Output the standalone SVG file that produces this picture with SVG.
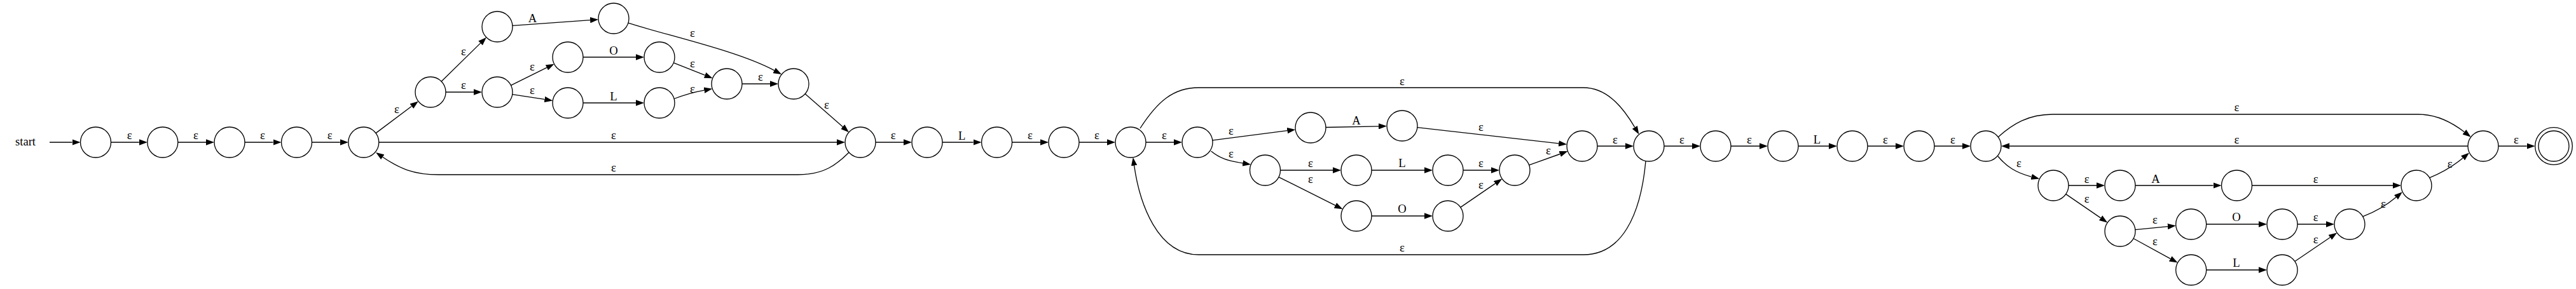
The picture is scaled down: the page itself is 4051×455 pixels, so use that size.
<svg xmlns="http://www.w3.org/2000/svg" width="4051" height="455" viewBox="0 0 4051 455">
<style>
.n{fill:#fff;stroke:#000;stroke-width:1.33}
.e{fill:none;stroke:#000;stroke-width:1.33;marker-end:url(#ah)}
text{font-family:"Liberation Serif","Times New Roman",serif;font-size:18.67px;fill:#000;text-anchor:middle}
</style>
<defs>
<marker id="ah" viewBox="0 0 13 9.4" refX="0" refY="4.7" markerWidth="13" markerHeight="9.4" markerUnits="userSpaceOnUse" orient="auto">
<path d="M0,0 L13,4.7 L0,9.4 z" fill="#000"/>
</marker>
</defs>
<rect width="4051" height="455" fill="#fff"/>
<g id="connectors">
<path class="e" d="M78,224 L113.5,224"/>
<path class="e" d="M174.5,224 L218.8,224"/><text x="203.6" y="219">ε</text>
<path class="e" d="M279.8,224 L324,224"/><text x="308" y="219">ε</text>
<path class="e" d="M385,224 L429.5,224"/><text x="413" y="219">ε</text>
<path class="e" d="M490.5,224 L534.8,224"/><text x="518.7" y="219">ε</text>
<path class="e" d="M591,209.6 L647.4,167.2"/><text x="624" y="177.5">ε</text>
<path class="e" d="M694.1,128.2 L755.6,67.9"/><text x="729" y="86.5">ε</text>
<path class="e" d="M701,145 L745,145"/><text x="729" y="139.5">ε</text>
<path class="e" d="M805.9,40.3 L928.1,31.6"/><text x="837.6" y="34.5">A</text>
<path class="e" d="M803.5,134.3 L859.9,106.4"/><text x="837" y="110.5">ε</text>
<path class="e" d="M805.7,148.6 L856.4,156.4"/><text x="837" y="147.5">ε</text>
<path class="e" d="M917,90 L1000,90"/><text x="965" y="86">O</text>
<path class="e" d="M917,162 L1000,162"/><text x="965" y="158">L</text>
<path class="e" d="M1059.3,98.8 L1108.6,118.4"/><text x="1089" y="105.5">ε</text>
<path class="e" d="M1060.1,155.5 Q1085,146 1107.4,142.1"/><text x="1089" y="145.5">ε</text>
<path class="e" d="M1167,132 L1211,132"/><text x="1196" y="126.5">ε</text>
<path class="e" d="M987.8,36.2 C1050,56 1160,80 1217.6,110.9"/><text x="1089" y="57.5">ε</text>
<path class="e" d="M1266.1,147.8 L1325.2,199.6"/><text x="1300" y="170.5">ε</text>
<path class="e" d="M595.8,224 L1316,224"/><text x="965" y="218.5">ε</text>
<path class="e" d="M1335,240 C1315,260 1295,275 1255,275 L690,275 C650,275 628,265 601.8,247.2"/><text x="965" y="269.5">ε</text>
<path class="e" d="M1377,224 L1421,224"/><text x="1404.6" y="218.5">ε</text>
<path class="e" d="M1482,224 L1530.6,224"/><text x="1512.7" y="219.5">L</text>
<path class="e" d="M1591.6,224 L1636,224"/><text x="1620" y="218.5">ε</text>
<path class="e" d="M1697,224 L1741,224"/><text x="1725" y="218.5">ε</text>
<path class="e" d="M1802,224 L1846,224"/><text x="1831" y="218.5">ε</text>
<path class="e" d="M1906.8,220.9 L2024.3,205.7"/><text x="1936" y="211.5">ε</text>
<path class="e" d="M1904.6,238 C1918,249 1930,253 1954.3,256.9"/><text x="1936" y="247.5">ε</text>
<path class="e" d="M2085,200.5 L2168,198.8"/><text x="2133" y="196">A</text>
<path class="e" d="M2013.5,268 L2096,268"/><text x="2061" y="262.5">ε</text>
<path class="e" d="M2011,278.8 L2099.9,323.4"/><text x="2061" y="287.5">ε</text>
<path class="e" d="M2157,268 L2240,268"/><text x="2205" y="263">L</text>
<path class="e" d="M2157,340 L2240,340"/><text x="2205" y="335">O</text>
<path class="e" d="M2301,268 L2345,268"/><text x="2329" y="262.5">ε</text>
<path class="e" d="M2296.8,326.4 L2351.5,288.9"/><text x="2329" y="296.5">ε</text>
<path class="e" d="M2228.8,200.7 L2451.2,225.8"/><text x="2329" y="205.5">ε</text>
<path class="e" d="M2404.6,259.9 L2453.2,242.5"/><text x="2435" y="242.5">ε</text>
<path class="e" d="M2512,230 L2556,230"/><text x="2540" y="225.5">ε</text>
<path class="e" d="M2617,230 L2661,230"/><text x="2645" y="225.5">ε</text>
<path class="e" d="M1793,202 C1820,160 1845,138 1885,138 L2490,138 C2525,138 2550,165 2570.8,200.4"/><text x="2205" y="133.5">ε</text>
<path class="e" d="M2588,254 C2580,340 2550,401 2490,401 L1885,401 C1820,401 1792,320 1783.6,260.7"/><text x="2205" y="395.5">ε</text>
<path class="e" d="M2722,230 L2767,230"/><text x="2751" y="225.5">ε</text>
<path class="e" d="M2828,230 L2876,230"/><text x="2857.5" y="226">L</text>
<path class="e" d="M2937,230 L2981,230"/><text x="2965" y="225.5">ε</text>
<path class="e" d="M3042,230 L3086,230"/><text x="3071" y="225.5">ε</text>
<path class="e" d="M3142,246 C3155,262 3170,272 3194.6,278.3"/><text x="3175" y="262.5">ε</text>
<path class="e" d="M3253,292 L3297,292"/><text x="3281.6" y="287.5">ε</text>
<path class="e" d="M3248.8,305.6 L3303.5,343.1"/><text x="3281.6" y="318.5">ε</text>
<path class="e" d="M3358,292 L3480.5,292"/><text x="3390" y="288">A</text>
<path class="e" d="M3357.9,361.6 L3408.9,356.6"/><text x="3389" y="351.5">ε</text>
<path class="e" d="M3355.1,375.5 L3413.2,407.3"/><text x="3389" y="385.5">ε</text>
<path class="e" d="M3541.5,292 L3763,292"/><text x="3641.6" y="287.5">ε</text>
<path class="e" d="M3469.7,353 L3552,353"/><text x="3517" y="348">O</text>
<path class="e" d="M3469.7,425 L3552,425"/><text x="3517" y="420">L</text>
<path class="e" d="M3613,353 L3658,353"/><text x="3641.6" y="347.5">ε</text>
<path class="e" d="M3608.9,411.5 L3664.4,373.8"/><text x="3641.6" y="382.5">ε</text>
<path class="e" d="M3715.8,340.9 Q3745,330 3768,310.6"/><text x="3748" y="326.5">ε</text>
<path class="e" d="M3820.7,279.8 Q3850,268 3873.1,248.8"/><text x="3852.6" y="263.5">ε</text>
<path class="e" d="M3142,216 C3165,195 3190,180 3228,180 L3803,180 C3830,180 3855,192 3875.4,207.8"/><text x="3517.5" y="174.5">ε</text>
<path class="e" d="M3881,230 L3160,230"/><text x="3517.5" y="225.5">ε</text>
<path class="e" d="M3929,230 L3973.7,230"/><text x="3957" y="225.5">ε</text>
</g>
<g id="start"><text x="40" y="229">start</text></g>
<g id="n0"><circle class="n" cx="150.5" cy="224" r="24"/></g>
<g id="n1"><circle class="n" cx="255.8" cy="224" r="24"/></g>
<g id="n2"><circle class="n" cx="361" cy="224" r="24"/></g>
<g id="n3"><circle class="n" cx="466.5" cy="224" r="24"/></g>
<g id="n4"><circle class="n" cx="571.8" cy="224" r="24"/></g>
<g id="n5"><circle class="n" cx="677" cy="145" r="24"/></g>
<g id="n6"><circle class="n" cx="782" cy="42" r="24"/></g>
<g id="n7"><circle class="n" cx="782" cy="145" r="24"/></g>
<g id="n8"><circle class="n" cx="965" cy="29" r="24"/></g>
<g id="n9"><circle class="n" cx="893" cy="90" r="24"/></g>
<g id="n10"><circle class="n" cx="893" cy="162" r="24"/></g>
<g id="n11"><circle class="n" cx="1037" cy="90" r="24"/></g>
<g id="n12"><circle class="n" cx="1037" cy="162" r="24"/></g>
<g id="n13"><circle class="n" cx="1143" cy="132" r="24"/></g>
<g id="n14"><circle class="n" cx="1248" cy="132" r="24"/></g>
<g id="n15"><circle class="n" cx="1353" cy="224" r="24"/></g>
<g id="n16"><circle class="n" cx="1458" cy="224" r="24"/></g>
<g id="n17"><circle class="n" cx="1567.6" cy="224" r="24"/></g>
<g id="n18"><circle class="n" cx="1673" cy="224" r="24"/></g>
<g id="n19"><circle class="n" cx="1778" cy="224" r="24"/></g>
<g id="n20"><circle class="n" cx="1883" cy="224" r="24"/></g>
<g id="n21"><circle class="n" cx="2061" cy="201" r="24"/></g>
<g id="n22"><circle class="n" cx="1989.5" cy="268" r="24"/></g>
<g id="n23"><circle class="n" cx="2205" cy="198" r="24"/></g>
<g id="n24"><circle class="n" cx="2133" cy="268" r="24"/></g>
<g id="n25"><circle class="n" cx="2133" cy="340" r="24"/></g>
<g id="n26"><circle class="n" cx="2277" cy="268" r="24"/></g>
<g id="n27"><circle class="n" cx="2277" cy="340" r="24"/></g>
<g id="n28"><circle class="n" cx="2382" cy="268" r="24"/></g>
<g id="n29"><circle class="n" cx="2488" cy="230" r="24"/></g>
<g id="n30"><circle class="n" cx="2593" cy="230" r="24"/></g>
<g id="n31"><circle class="n" cx="2698" cy="230" r="24"/></g>
<g id="n32"><circle class="n" cx="2804" cy="230" r="24"/></g>
<g id="n33"><circle class="n" cx="2913" cy="230" r="24"/></g>
<g id="n34"><circle class="n" cx="3018" cy="230" r="24"/></g>
<g id="n35"><circle class="n" cx="3123" cy="230" r="24"/></g>
<g id="n36"><circle class="n" cx="3229" cy="292" r="24"/></g>
<g id="n37"><circle class="n" cx="3334" cy="292" r="24"/></g>
<g id="n38"><circle class="n" cx="3334" cy="364" r="24"/></g>
<g id="n39"><circle class="n" cx="3517.5" cy="292" r="24"/></g>
<g id="n40"><circle class="n" cx="3445.7" cy="353" r="24"/></g>
<g id="n41"><circle class="n" cx="3445.7" cy="425" r="24"/></g>
<g id="n42"><circle class="n" cx="3589" cy="353" r="24"/></g>
<g id="n43"><circle class="n" cx="3589" cy="425" r="24"/></g>
<g id="n44"><circle class="n" cx="3695" cy="353" r="24"/></g>
<g id="n45"><circle class="n" cx="3800" cy="292" r="24"/></g>
<g id="n46"><circle class="n" cx="3905" cy="230" r="24"/></g>
<g id="n47"><circle class="n" cx="4016" cy="230" r="29.3"/><circle class="n" cx="4016" cy="230" r="24"/></g>
</svg>
